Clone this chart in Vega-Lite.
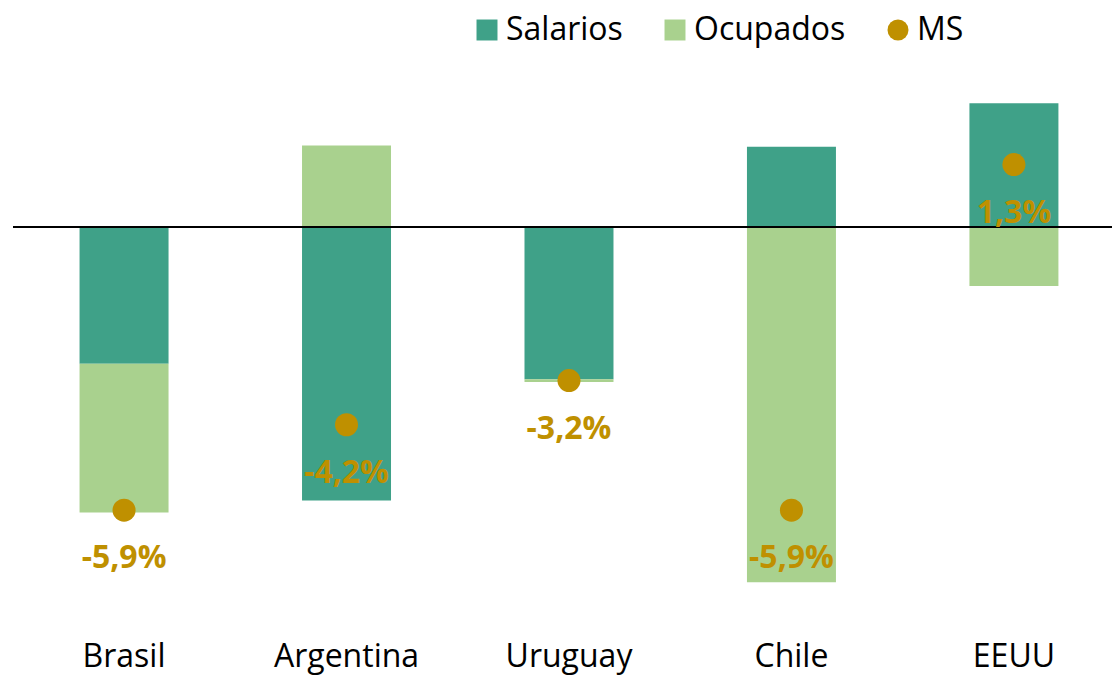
{
  "$schema": "https://vega.github.io/schema/vega-lite/v6.json",
  "width": 1099,
  "height": 528,
  "autosize": {"type": "none"},
  "padding": {"left": 13, "top": 83, "right": 0, "bottom": 66},
  "background": "white",
  "config": {"view": {"stroke": null}, "font": "Open Sans"},
  "datasets": {
    "bars": [
      {"pais": "Brasil", "serie": "Salarios", "valor": -2.85},
      {"pais": "Brasil", "serie": "Ocupados", "valor": -3.1},
      {"pais": "Argentina", "serie": "Salarios", "valor": -5.7},
      {"pais": "Argentina", "serie": "Ocupados", "valor": 1.7},
      {"pais": "Uruguay", "serie": "Salarios", "valor": -3.17},
      {"pais": "Uruguay", "serie": "Ocupados", "valor": -0.06},
      {"pais": "Chile", "serie": "Salarios", "valor": 1.67},
      {"pais": "Chile", "serie": "Ocupados", "valor": -7.4},
      {"pais": "EEUU", "serie": "Salarios", "valor": 2.58},
      {"pais": "EEUU", "serie": "Ocupados", "valor": -1.23}
    ],
    "ms": [
      {"pais": "Brasil", "serie": "MS", "valor": -5.9, "etiqueta": "-5,9%"},
      {"pais": "Argentina", "serie": "MS", "valor": -4.12, "etiqueta": "-4,2%"},
      {"pais": "Uruguay", "serie": "MS", "valor": -3.2, "etiqueta": "-3,2%"},
      {"pais": "Chile", "serie": "MS", "valor": -5.9, "etiqueta": "-5,9%"},
      {"pais": "EEUU", "serie": "MS", "valor": 1.3, "etiqueta": "1,3%"}
    ]
  },
  "encoding": {
    "x": {
      "field": "pais", "type": "nominal",
      "sort": ["Brasil", "Argentina", "Uruguay", "Chile", "EEUU"],
      "scale": {"paddingInner": 0.6, "paddingOuter": 0.27, "align": 0.554},
      "axis": {"title": null, "domain": false, "ticks": false, "labelAngle": 0, "labelFontSize": 32, "labelColor": "black", "labelPadding": 30}
    }
  },
  "layer": [
    {
      "data": {"name": "bars"},
      "mark": {"type": "bar"},
      "encoding": {
        "y": {"field": "valor", "type": "quantitative", "stack": "zero",
              "scale": {"domain": [-8, 3], "nice": false},
              "axis": null},
        "color": {"field": "serie", "type": "nominal",
                  "scale": {"domain": ["Salarios", "Ocupados", "MS"], "range": ["#3FA188", "#A9D18E", "#BF9000"]},
                  "legend": {"title": null, "orient": "none", "direction": "horizontal", "legendX": 458, "legendY": -69,
                             "labelFontSize": 32, "labelColor": "black", "symbolSize": 440, "columnPadding": 36, "labelOffset": 3, "symbolStrokeWidth": 0}},
        "order": {"field": "serie", "sort": "descending"}
      }
    },
    {
      "data": {"values": [{"v": 0}]},
      "mark": {"type": "rule", "color": "black", "strokeWidth": 2},
      "encoding": {"x": null, "y": {"field": "v", "type": "quantitative"}}
    },
    {
      "data": {"name": "ms"},
      "mark": {"type": "point", "filled": true, "opacity": 1, "size": 530},
      "encoding": {
        "y": {"field": "valor", "type": "quantitative"},
        "color": {"field": "serie", "type": "nominal"},
        "shape": {"field": "serie", "type": "nominal",
                  "scale": {"domain": ["Salarios", "Ocupados", "MS"], "range": ["square", "square", "circle"]}}
      }
    },
    {
      "data": {"name": "ms"},
      "mark": {"type": "text", "fontSize": 32, "fontWeight": "bold", "color": "#BF9000", "baseline": "middle", "dy": 48},
      "encoding": {
        "y": {"field": "valor", "type": "quantitative"},
        "text": {"field": "etiqueta"}
      }
    }
  ]
}
